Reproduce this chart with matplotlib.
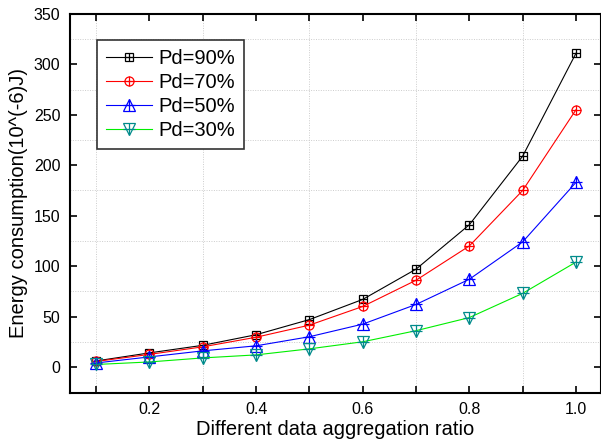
import matplotlib.pyplot as plt
from matplotlib.ticker import FixedLocator
import numpy as np

plt.rcParams['font.family'] = ['Liberation Sans', 'DejaVu Sans']

# data aggregation ratio vs energy consumption (10^-6 J)
ratio = [0.1, 0.2, 0.3, 0.4, 0.5, 0.6, 0.7, 0.8, 0.9, 1.0]
pd90 = [6, 14, 21.5, 32, 47, 67, 97, 141, 209, 311]
pd70 = [5.5, 12.5, 20, 29.5, 41.5, 60, 86, 120, 175, 255]
pd50 = [4, 10, 16, 21, 30, 42.5, 62, 87, 124, 183]
pd30 = [2.5, 5, 9, 12, 18, 25, 36, 49, 73, 104]
labels = ["Pd=90%", "Pd=70%", "Pd=50%", "Pd=30%"]

styles = [
    (pd90, 'black', 'black', 's', 6),
    (pd70, 'red', 'red', 'o', 6.5),
    (pd50, 'blue', 'blue', '^', 8),
    (pd30, '#00ee00', '#008b8b', 'v', 8),
]

fig = plt.figure(figsize=(6.01, 4.44), dpi=100)
ax = fig.add_axes([0.1165, 0.1155, 0.8835, 0.853])

handles = []
for (vals, lc, mc, mk, ms), lab in zip(styles, labels):
    l1, = ax.plot(ratio, vals, color=lc, lw=0.8, marker=mk, ms=ms,
                  mfc='none', mec=mc, mew=0.9)
    l2, = ax.plot(ratio, vals, ls='none', marker='+', ms=ms,
                  mec=mc, mew=0.9)
    handles.append((l1, l2))

ax.set_xlim(0.051, 1.047)
ax.set_ylim(-25.5, 350)

ax.xaxis.set_major_locator(FixedLocator([0.2, 0.4, 0.6, 0.8, 1.0]))
ax.xaxis.set_minor_locator(FixedLocator([0.1, 0.3, 0.5, 0.7, 0.9]))
ax.set_xticklabels(["0.2", "0.4", "0.6", "0.8", "1.0"])
ax.yaxis.set_major_locator(FixedLocator(np.arange(0, 351, 50)))
ax.yaxis.set_minor_locator(FixedLocator(np.arange(25, 350, 50)))

ax.tick_params(which='both', direction='in', top=True, right=True,
               labelsize=11.5, width=1.2, pad=7)
ax.tick_params(axis='x', which='both', length=5)
ax.tick_params(axis='y', which='major', length=5)
ax.tick_params(axis='y', which='minor', length=0)
ax.grid(which='minor', ls=(0, (1, 1.5)), color='#cccccc', lw=0.7)
ax.grid(which='major', visible=False)

for s in ax.spines.values():
    s.set_linewidth(1.5)

ax.set_xlabel("Different data aggregation ratio", fontsize=14.5, labelpad=2)
ax.set_ylabel("Energy consumption(10^(-6)J)", fontsize=14.5, labelpad=4)

leg = ax.legend(handles, labels, loc='upper left', bbox_to_anchor=(0.05, 0.931),
                borderaxespad=0, fontsize=14.5, handlelength=2.3,
                handletextpad=0.3, labelspacing=0.25, fancybox=False,
                edgecolor='#333333', framealpha=1, borderpad=0.45)
leg.get_frame().set_linewidth(1.2)

fig.savefig("out.png", dpi=100)
